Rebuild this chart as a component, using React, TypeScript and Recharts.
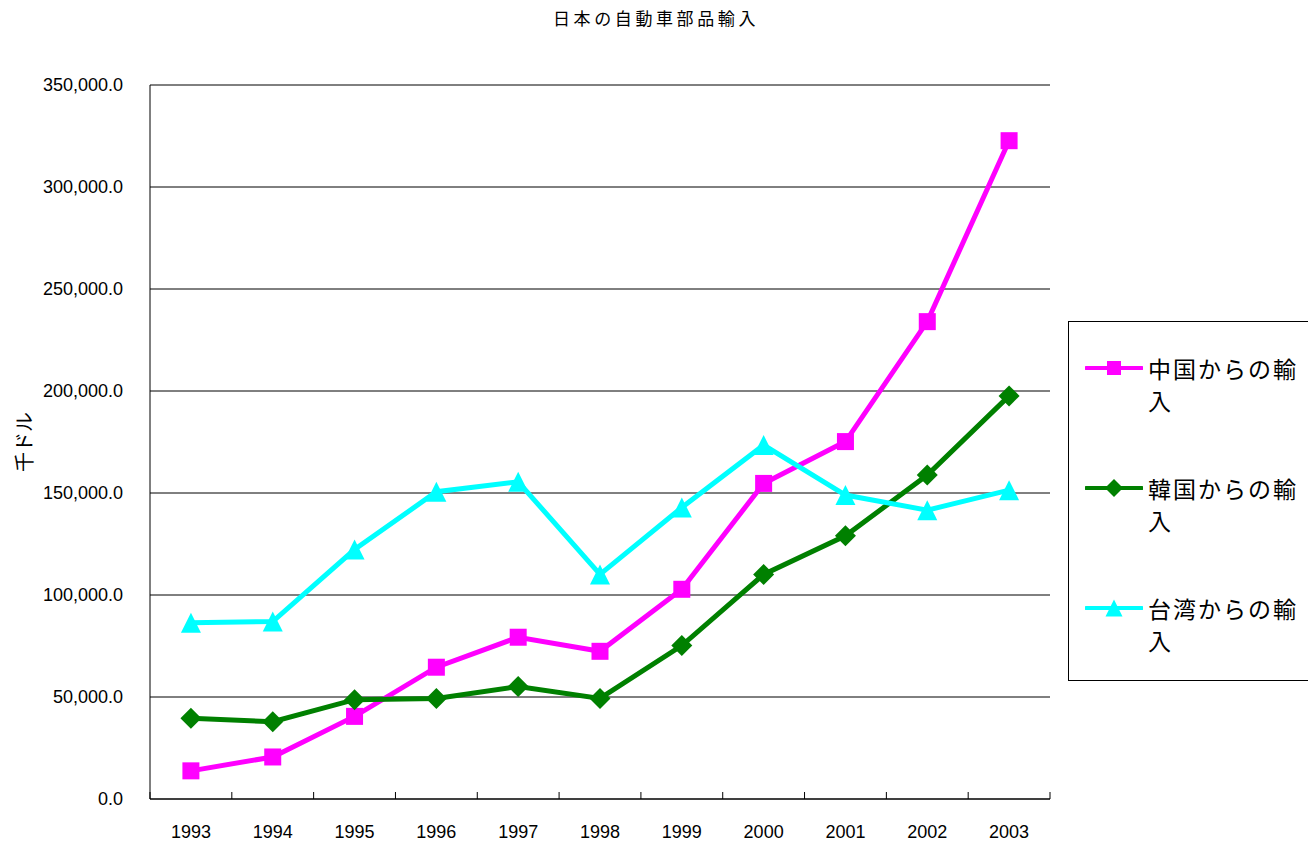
import React from 'react';
import { LineChart, Line, XAxis, YAxis, CartesianGrid, Label } from 'recharts';

const years = ['1993', '1994', '1995', '1996', '1997', '1998', '1999', '2000', '2001', '2002', '2003'];
const china = [13800, 20600, 40500, 64600, 79300, 72400, 102800, 154700, 175200, 234000, 322700];
const korea = [39600, 37900, 48700, 49300, 55100, 49300, 75200, 110100, 129000, 158800, 197600];
const taiwan = [86400, 87000, 122300, 150600, 155500, 110100, 142900, 173500, 149000, 141600, 151400];
const yTicks = [0, 50000, 100000, 150000, 200000, 250000, 300000, 350000];

const title = '日本の自動車部品輸入';
const yLabel = '千ドル';

const series = [
  { key: 'china', name: '中国からの輸入', color: '#ff00ff', shape: 'square' },
  { key: 'korea', name: '韓国からの輸入', color: '#008000', shape: 'diamond' },
  { key: 'taiwan', name: '台湾からの輸入', color: '#00ffff', shape: 'triangle' },
];

const data = years.map((year, i) => ({
  year,
  china: china[i],
  korea: korea[i],
  taiwan: taiwan[i],
}));

const W = 1308;
const H = 842;
const X_TICK_MARGIN = 26;
const LABEL_FONT = "'Liberation Sans', Arial, sans-serif";
const JP_FONT = "'Noto Sans CJK JP', sans-serif";

const fmt = (v: number) =>
  v.toLocaleString('en-US', { minimumFractionDigits: 1, maximumFractionDigits: 1 });

function Marker({ shape, cx, cy, color, size }: any) {
  if (cx == null || cy == null) return null;
  const h = size / 2;
  if (shape === 'square') {
    return <rect x={cx - h} y={cy - h} width={size} height={size} fill={color} />;
  }
  if (shape === 'diamond') {
    const d = h + 2;
    return <polygon points={`${cx},${cy - d} ${cx + d},${cy} ${cx},${cy + d} ${cx - d},${cy}`} fill={color} />;
  }
  const t = h + 1.5;
  return <polygon points={`${cx},${cy - t} ${cx + t},${cy + t} ${cx - t},${cy + t}`} fill={color} />;
}

// year label plus the small inward tick at each category boundary
function YearTick(props: any) {
  const { x, y, payload, index } = props;
  const half = payload?.offset ?? 0;
  const axisY = y - X_TICK_MARGIN;
  return (
    <g>
      <line x1={x - half} x2={x - half} y1={axisY} y2={axisY - 7} stroke="#000" />
      {index === years.length - 1 && (
        <line x1={x + half} x2={x + half} y1={axisY} y2={axisY - 7} stroke="#000" />
      )}
      <text x={x} y={y} dy="0.71em" textAnchor="middle" fill="#000" fontSize={18} fontFamily={LABEL_FONT}>
        {payload.value}
      </text>
    </g>
  );
}

function ChartLegend() {
  return (
    <div
      style={{
        position: 'absolute',
        left: 1068,
        top: 321,
        width: 250,
        height: 360,
        border: '1px solid #000',
        background: '#fff',
        boxSizing: 'border-box',
      }}
    >
      {series.map((s, i) => (
        <div key={s.key} style={{ position: 'absolute', left: 0, top: 30 + i * 120, width: 250 }}>
          <svg width={58} height={32} style={{ position: 'absolute', left: 16, top: 0 }}>
            <line x1={1} x2={57} y1={16} y2={16} stroke={s.color} strokeWidth={4} strokeLinecap="round" />
            <Marker shape={s.shape} cx={29} cy={16} color={s.color} size={14} />
          </svg>
          <div
            style={{
              position: 'absolute',
              left: 79,
              top: 0,
              width: 155,
              fontFamily: JP_FONT,
              fontSize: 23,
              lineHeight: '32px',
              letterSpacing: 2,
              color: '#000',
            }}
          >
            {s.name}
          </div>
        </div>
      ))}
    </div>
  );
}

export default function App() {
  return (
    <div style={{ position: 'absolute', left: 0, top: 0, width: W, height: H, overflow: 'hidden', background: '#fff' }}>
      <div
        style={{
          position: 'absolute',
          left: 0,
          top: 6,
          width: W,
          textAlign: 'center',
          fontFamily: JP_FONT,
          fontSize: 17,
          lineHeight: '24px',
          letterSpacing: 3.6,
          paddingLeft: 4,
          boxSizing: 'border-box',
          color: '#000',
        }}
      >
        {title}
      </div>
      <LineChart width={W} height={H} data={data} margin={{ top: 85, right: 258, bottom: 3, left: 10 }}>
        <CartesianGrid vertical={false} stroke="#000" strokeWidth={1} />
        <XAxis
          dataKey="year"
          scale="band"
          height={40}
          axisLine={{ stroke: '#000' }}
          tickLine={false}
          tickSize={0}
          tickMargin={X_TICK_MARGIN}
          interval={0}
          tick={<YearTick />}
        />
        <YAxis
          width={140}
          domain={[0, 350000]}
          ticks={yTicks}
          interval={0}
          axisLine={{ stroke: '#000' }}
          tickLine={false}
          tickSize={0}
          tickMargin={27}
          tickFormatter={fmt}
          tick={{ fill: '#000', fontSize: 18, fontFamily: LABEL_FONT }}
        >
          <Label
            content={({ viewBox }: any) => {
              const cx = viewBox.x + 13;
              const cy = viewBox.y + viewBox.height / 2;
              return (
                <text
                  x={cx}
                  y={cy}
                  transform={`rotate(-90 ${cx} ${cy})`}
                  textAnchor="middle"
                  dominantBaseline="central"
                  fontFamily={JP_FONT}
                  fontSize={20}
                  fill="#000"
                >
                  {yLabel}
                </text>
              );
            }}
          />
        </YAxis>
        {series.map((s) => (
          <Line
            key={s.key}
            type="linear"
            dataKey={s.key}
            name={s.name}
            stroke={s.color}
            strokeWidth={5}
            isAnimationActive={false}
            activeDot={false}
            dot={(p: any) => (
              <Marker key={`${s.key}-${p.index}`} shape={s.shape} cx={p.cx} cy={p.cy} color={s.color} size={17} />
            )}
          />
        ))}
      </LineChart>
      <ChartLegend />
    </div>
  );
}
